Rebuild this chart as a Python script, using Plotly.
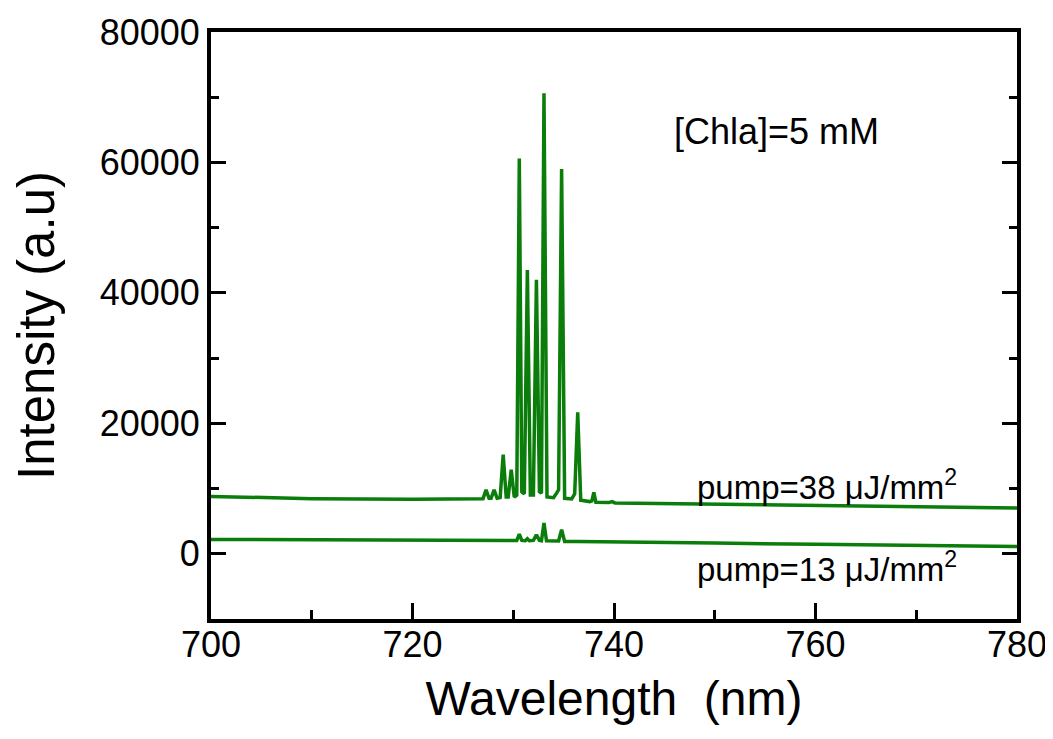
import plotly.graph_objects as go

# Upper spectrum (pump = 38 uJ/mm^2)
wl_high = [700, 710, 720, 725, 727.0, 727.3, 727.6, 727.8, 728.1, 728.4, 728.7, 729.0, 729.3,
           729.5, 729.8, 730.1, 730.35, 730.6, 730.85, 731.1, 731.4, 731.7, 732.0, 732.3,
           732.6, 732.8, 733.05, 733.35, 734.0, 734.3, 734.5, 734.8, 735.1, 735.8, 736.1,
           736.4, 736.7, 737.6, 737.8, 738.0, 738.2, 739.5, 739.8, 740.1, 745, 750, 760, 770, 780]
int_high = [8800, 8450, 8350, 8400, 8450, 9800, 8500, 8500, 9800, 8500, 8600, 15200, 8700,
            8700, 12900, 8700, 9000, 60600, 9500, 9200, 43500, 9000, 9000, 42000,
            9500, 9300, 70600, 8700, 8600, 9300, 9800, 59000, 8500, 8400, 9200,
            21700, 8200, 8000, 8100, 9400, 7900, 7850, 8000, 7800, 7700, 7500, 7300, 7150, 7000]

# Lower spectrum (pump = 13 uJ/mm^2)
wl_low = [700, 710, 720, 730, 730.35, 730.6, 730.85, 731.2, 731.4, 731.6, 732.0, 732.3, 732.6,
          732.8, 733.05, 733.3, 734.5, 734.8, 735.1, 736.4, 740, 750, 760, 770, 780]
int_low = [2200, 2120, 2050, 2000, 2050, 3000, 2050, 2000, 2300, 2000, 2050, 2900, 2050,
           2000, 4700, 2000, 1950, 3700, 1900, 1900, 1800, 1650, 1450, 1280, 1120]

x_ticks = [700, 720, 740, 760, 780]
x_ticktext = ["700", "720", "740", "760", "780"]
y_ticks = [0, 20000, 40000, 60000, 80000]
y_ticktext = ["0", "20000", "40000", "60000", "80000"]
top_ticks = [700, 710, 720, 730, 740, 750, 760, 770, 780]

font = "Liberation Sans, Arial, sans-serif"
green = "#0a7d0a"

fig = go.Figure()
fig.add_trace(go.Scatter(x=wl_high, y=int_high, mode="lines",
                         line=dict(color=green, width=3.5), showlegend=False))
fig.add_trace(go.Scatter(x=wl_low, y=int_low, mode="lines",
                         line=dict(color=green, width=3.5), showlegend=False))

tickfont = dict(family=font, size=36, color="black")

fig.update_xaxes(range=[700, 780], tickvals=x_ticks, ticktext=x_ticktext,
                 showline=True, linecolor="black", linewidth=4, mirror=True,
                 ticks="inside", ticklen=16, tickwidth=3, tickcolor="black",
                 showgrid=False, zeroline=False, tickfont=tickfont, automargin=False,
                 ticklabelstandoff=-9,
                 minor=dict(ticks="inside", ticklen=9, tickwidth=3, dtick=10, tick0=700,
                            tickcolor="black"),
                 title=dict(text="Wavelength  (nm)", font=dict(family=font, size=48, color="black"),
                            standoff=18))
fig.update_yaxes(range=[-10000, 80000], tickvals=y_ticks, ticktext=y_ticktext,
                 showline=True, linecolor="black", linewidth=4, mirror="ticks",
                 ticks="inside", ticklen=15, tickwidth=3, tickcolor="black",
                 showgrid=False, zeroline=False, tickfont=tickfont, automargin=False,
                 minor=dict(ticks="inside", ticklen=8, tickwidth=3, dtick=10000, tick0=0,
                            tickcolor="black"),
                 title=dict(text="Intensity (a.u)", font=dict(family=font, size=51, color="black"),
                            standoff=30))

fig.update_layout(xaxis2=dict(overlaying="x", side="top", range=[700, 780], tickvals=top_ticks,
                              ticks="inside", ticklen=3, tickwidth=2, tickcolor="black",
                              showticklabels=False, showgrid=False, zeroline=False,
                              showline=False, automargin=False))

ann_font = dict(family=font, size=36, color="black")
fig.add_annotation(x=745.8, y=64800, text="[Chla]=5 mM", showarrow=False,
                   xanchor="left", yanchor="middle", font=ann_font)
pump_font = dict(family=font, size=33, color="black")
fig.add_annotation(x=748.0, y=10500, text="pump=38 μJ/mm<sup>2</sup>", showarrow=False,
                   xanchor="left", yanchor="middle", font=pump_font)
fig.add_annotation(x=748.0, y=-2100, text="pump=13 μJ/mm<sup>2</sup>", showarrow=False,
                   xanchor="left", yanchor="middle", font=pump_font)

fig.update_layout(width=1045, height=731, plot_bgcolor="white", paper_bgcolor="white",
                  margin=dict(l=203, r=36, t=24, b=120))

fig.write_html("out.html")
